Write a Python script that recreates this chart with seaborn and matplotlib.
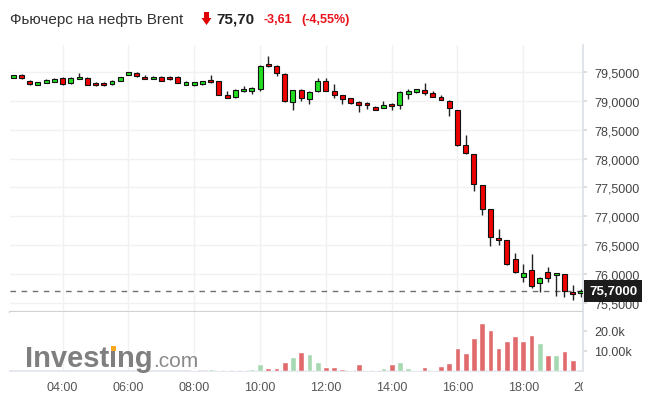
import numpy as np
import pandas as pd
import matplotlib
matplotlib.use("Agg")
import matplotlib.pyplot as plt
import matplotlib.transforms as mtransforms
from matplotlib.patches import Polygon, Rectangle
from matplotlib.ticker import FuncFormatter
import seaborn as sns

# ---------------- data ----------------
title = "Фьючерс на нефть Brent"
last_price_txt = "75,70"
change_txt = "-3,61"
change_pct_txt = "(-4,55%)"
price_tag_txt = "75,7000"
last_value = 75.70

# 15-minute candles from 02:30 to 19:45
candle_times = pd.date_range("2024-01-01 02:30", periods=70, freq="15min")
opens = [79.41, 79.46, 79.36, 79.29, 79.32, 79.34, 79.40, 79.31, 79.39, 79.41,
         79.32, 79.32, 79.30, 79.36, 79.46, 79.49, 79.43, 79.39, 79.42, 79.43,
         79.43, 79.29, 79.28, 79.30, 79.37, 79.35, 79.10, 79.07, 79.17, 79.18,
         79.22, 79.65, 79.62, 79.48, 78.99, 79.19, 79.04, 79.17, 79.36, 79.17,
         79.10, 79.05, 78.98, 78.97, 78.90, 78.89, 78.96, 78.93, 79.12, 79.16,
         79.20, 79.14, 79.07, 79.01, 78.84, 78.24, 78.08, 77.54, 77.12, 76.63,
         76.58, 76.26, 75.94, 76.07, 75.84, 76.03, 75.98, 75.99, 75.68, 75.66]
closes = [79.45, 79.40, 79.30, 79.33, 79.37, 79.39, 79.30, 79.41, 79.43, 79.29,
          79.28, 79.28, 79.36, 79.42, 79.50, 79.44, 79.39, 79.43, 79.36, 79.38,
          79.32, 79.34, 79.33, 79.35, 79.33, 79.11, 79.06, 79.19, 79.21, 79.23,
          79.62, 79.61, 79.49, 79.00, 79.19, 79.05, 79.16, 79.36, 79.18, 79.10,
          79.04, 78.97, 78.94, 78.93, 78.85, 78.94, 78.92, 79.16, 79.17, 79.21,
          79.14, 79.08, 79.03, 78.89, 78.24, 78.10, 77.56, 77.12, 76.64, 76.59,
          76.17, 76.03, 76.01, 75.78, 75.93, 75.93, 76.00, 75.70, 75.64, 75.70]
highs = [79.46, 79.47, 79.37, 79.34, 79.38, 79.40, 79.42, 79.42, 79.49, 79.42,
         79.33, 79.33, 79.37, 79.43, 79.51, 79.50, 79.45, 79.44, 79.44, 79.44,
         79.44, 79.35, 79.34, 79.36, 79.45, 79.36, 79.17, 79.21, 79.26, 79.24,
         79.63, 79.78, 79.63, 79.49, 79.20, 79.22, 79.17, 79.40, 79.40, 79.30,
         79.11, 79.06, 79.01, 78.98, 78.91, 79.00, 78.97, 79.17, 79.21, 79.22,
         79.32, 79.17, 79.11, 79.02, 78.85, 78.42, 78.09, 77.55, 77.13, 76.78,
         76.59, 76.36, 76.17, 76.35, 75.94, 76.11, 76.01, 76.00, 75.80, 75.74]
lows = [79.40, 79.39, 79.29, 79.28, 79.31, 79.33, 79.29, 79.30, 79.38, 79.28,
        79.27, 79.27, 79.29, 79.35, 79.45, 79.43, 79.38, 79.38, 79.35, 79.37,
        79.31, 79.28, 79.27, 79.29, 79.32, 79.10, 79.05, 79.06, 79.16, 79.13,
        79.17, 79.60, 79.44, 78.99, 78.85, 79.00, 78.95, 79.16, 79.17, 79.06,
        78.96, 78.96, 78.81, 78.87, 78.84, 78.88, 78.85, 78.87, 79.04, 79.15,
        79.10, 79.07, 79.02, 78.75, 78.23, 78.09, 77.44, 77.03, 76.49, 76.50,
        76.15, 76.02, 75.85, 75.76, 75.69, 75.85, 75.61, 75.59, 75.55, 75.59]

# volume (thousands), 15-minute bars from 08:00 to 19:30
volume_times = pd.date_range("2024-01-01 08:00", periods=47, freq="15min")
volumes = [0.3, 0.0, 1.0, 0.5, 0.5, 0.3, 0.3, 1.0, 3.5, 1.3,
           1.3, 4.7, 7.2, 9.3, 8.7, 4.7, 2.2, 1.8, 1.1, 0.6,
           3.7, 0.6, 0.6, 1.6, 3.7, 4.7, 1.6, 0.6, 1.9, 0.6,
           2.6, 4.2, 11.3, 9.0, 16.3, 24.0, 20.5, 11.3, 14.8, 17.4,
           14.8, 18.0, 13.8, 7.8, 8.2, 9.8, 5.4]
volume_dir = ["down", "up", "up", "down", "down", "up", "up", "up", "up", "down",
              "down", "down", "up", "down", "up", "up", "down", "down", "down", "down",
              "down", "down", "down", "up", "down", "up", "up", "up", "down", "down",
              "down", "down", "down", "down", "down", "down", "down", "down", "down", "down",
              "down", "down", "up", "down", "up", "down", "down"]

price_ticks = [75.5, 76.0, 76.5, 77.0, 77.5, 78.0, 78.5, 79.0, 79.5]
volume_ticks = [10, 20]
volume_tick_labels = ["10.00k", "20.0k"]
time_ticks = [4, 6, 8, 10, 12, 14, 16, 18, 20]
time_tick_labels = ["04:00", "06:00", "08:00", "10:00", "12:00", "14:00", "16:00", "18:00", "20:00"]

# ---------------- style ----------------
sns.set_theme(style="white")
plt.rcParams["font.family"] = ["Liberation Sans", "DejaVu Sans"]

W, H = 650, 402
fig = plt.figure(figsize=(W / 100, H / 100), dpi=100)
fig.patch.set_facecolor("white")


def fx(x):
    return x / W


def fy(y):
    return 1 - y / H


AX_L, AX_R = 10, 583
ax = fig.add_axes([fx(AX_L), fy(313), (AX_R - AX_L) / W, (313 - 46) / H])
vax = fig.add_axes([fx(AX_L), fy(372), (AX_R - AX_L) / W, (372 - 313) / H])
lax = fig.add_axes([fx(AX_L), 0, (AX_R - AX_L) / W, (H - 372) / H])

XL = (2.40, 19.815)
UP, DOWN = "#22dd22", "#ee0000"

# ---------------- candles ----------------
t = np.array([ts.hour + ts.minute / 60 for ts in candle_times])
o = np.array(opens)
c = np.array(closes)
hi = np.array(highs)
lo = np.array(lows)
is_up = c >= o
ax.vlines(t, lo, hi, color="#222222", lw=1.0, zorder=2)
body_bottom = np.minimum(o, c)
body_h = np.maximum(np.abs(c - o), 0.025)
ax.bar(t, body_h, bottom=body_bottom, width=0.15,
       color=np.where(is_up, UP, DOWN), edgecolor="#111111", linewidth=0.8, zorder=3)

ax.axhline(last_value, color="#707070", lw=1.0, ls=(0, (4, 4)), zorder=1)

ax.set_xlim(*XL)
ax.set_ylim(75.335, 79.978)
ax.set_xticks(time_ticks[:-1])
ax.set_xticklabels([])
ax.tick_params(axis="x", length=0)
ax.set_yticks(price_ticks)
ax.yaxis.set_major_formatter(FuncFormatter(lambda v, p: f"{v:.4f}".replace(".", ",")))
ax.yaxis.tick_right()
ax.tick_params(axis="y", labelsize=9, colors="#444444", length=3, pad=5,
               color="#d6dae2", labelcolor="#444444")
ax.grid(True, color="#f1f1f1", lw=1)
for s in ["top", "left"]:
    ax.spines[s].set_visible(False)
ax.spines["bottom"].set_color("#d2d2d2")
ax.spines["bottom"].set_linewidth(1.6)
ax.spines["right"].set_color("#dde1e8")
ax.set_facecolor("white")

tag_tr = mtransforms.blended_transform_factory(ax.transAxes, ax.transData)
ax.text(1.0 + 6 / (AX_R - AX_L), last_value, price_tag_txt, transform=tag_tr,
        ha="left", va="center", color="white", fontsize=9.5, fontweight="bold",
        bbox=dict(boxstyle="square,pad=0.38", fc="#1c1c1c", ec="none"),
        clip_on=False, zorder=10)

# ---------------- volume ----------------
vol_df = pd.DataFrame({
    "t": [ts.hour + ts.minute / 60 for ts in volume_times],
    "vol": volumes,
    "dir": volume_dir,
})
sns.barplot(data=vol_df, x="t", y="vol", hue="dir", native_scale=True, dodge=False,
            palette={"up": "#a6d8b1", "down": "#e06b6d"}, width=0.7, errorbar=None,
            legend=False, saturation=1, ax=vax, zorder=3)
vax.set_xlim(*XL)
vax.set_ylim(0, 29.5)
vax.set_xlabel("")
vax.set_ylabel("")
vax.set_xticks(time_ticks[:-1])
vax.set_xticklabels([])
vax.tick_params(axis="x", length=0)
vax.set_yticks(volume_ticks)
vax.set_yticklabels(volume_tick_labels)
vax.yaxis.tick_right()
vax.tick_params(axis="y", labelsize=9, colors="#444444", length=3, pad=5,
                color="#d6dae2", labelcolor="#444444")
vax.grid(True, axis="x", color="#f1f1f1", lw=1)
for s in ["top", "left"]:
    vax.spines[s].set_visible(False)
vax.spines["bottom"].set_color("#e2e5ec")
vax.spines["right"].set_color("#dde1e8")
vax.set_facecolor("white")

# ---------------- time labels ----------------
lax.set_xlim(*XL)
lax.set_ylim(0, 1)
lax.axis("off")
for h, lab in zip(time_ticks, time_tick_labels):
    lax.text(h, 0.47, lab, ha="center", va="center", fontsize=9, color="#555555",
             clip_on=True)

# ---------------- header ----------------
fig.text(fx(10), fy(20), title, ha="left", va="center", fontsize=11, color="#333333")
arrow = Polygon([[fx(204), fy(13)], [fx(209), fy(13)], [fx(209), fy(19)], [fx(211.5), fy(19)],
                 [fx(206.5), fy(26)], [fx(201.5), fy(19)], [fx(204), fy(19)]],
                closed=True, transform=fig.transFigure, fc="#e00000", ec="none")
fig.add_artist(arrow)
fig.text(fx(216), fy(20), last_price_txt, ha="left", va="center", fontsize=11,
         fontweight="bold", color="#222222")
fig.text(fx(263), fy(20), change_txt, ha="left", va="center", fontsize=9,
         fontweight="bold", color="#e8121b")
fig.text(fx(301), fy(20), change_pct_txt, ha="left", va="center", fontsize=9,
         fontweight="bold", color="#e8121b")

# ---------------- watermark ----------------
fig.canvas.draw()
renderer = fig.canvas.get_renderer()
x0 = fx(25)
base = fy(367)
parts = [("Invest", 21, "bold", "#7f7f7f"), ("\u0131", 21, "bold", "#7f7f7f"),
         ("ng", 21, "bold", "#7f7f7f"), (".com", 15, "normal", "#8a8a8a")]
cur = x0
for txt, fs, fw, col in parts:
    tt = fig.text(cur, base, txt, ha="left", va="baseline", fontsize=fs,
                  fontweight=fw, color=col, zorder=5)
    bb = tt.get_window_extent(renderer)
    if txt == "\u0131":
        cx = (bb.x0 + bb.x1) / 2 / W
        dot = Rectangle((cx - 2.4 / W, fy(352)), 4.8 / W, 4.8 / H,
                        transform=fig.transFigure, fc="#f7a823", ec="none", zorder=6)
        fig.add_artist(dot)
    cur = bb.x1 / W

fig.savefig("out.png", dpi=100, facecolor="white")
